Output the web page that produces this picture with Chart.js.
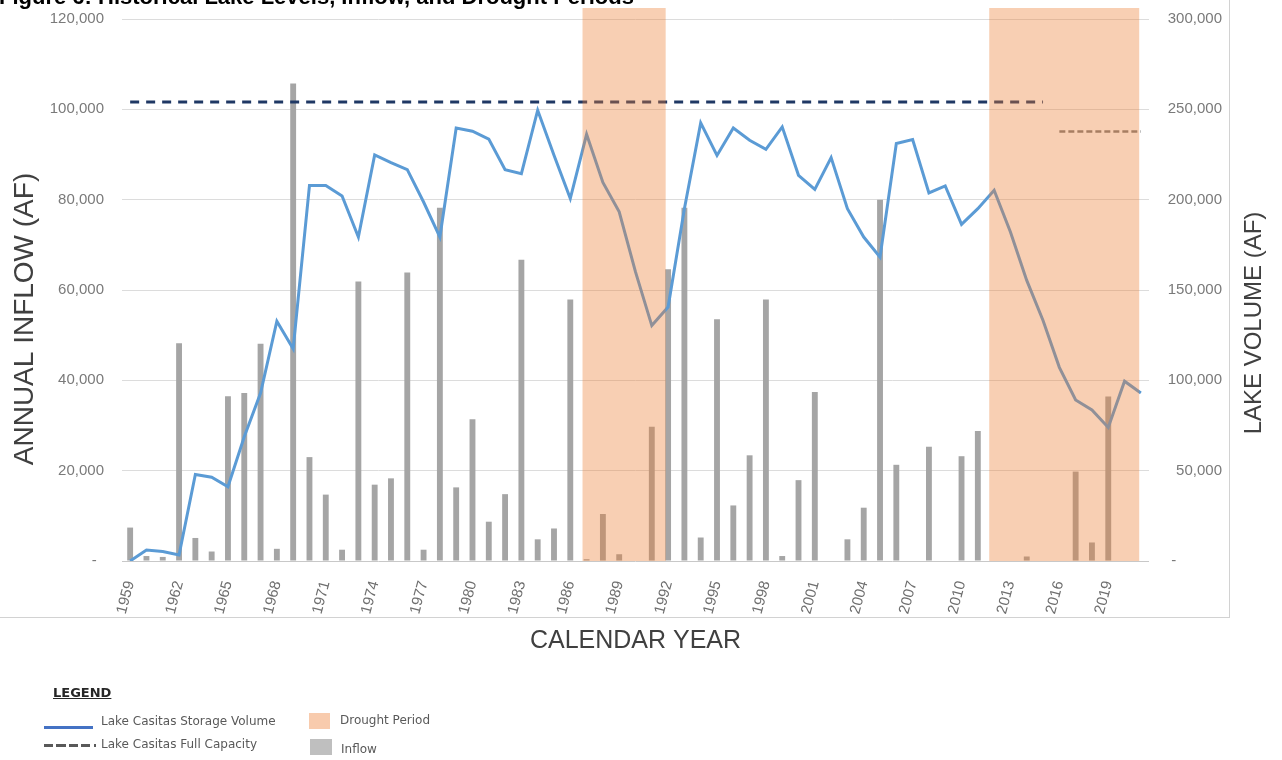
<!DOCTYPE html>
<html>
<head>
<meta charset="utf-8">
<script src="https://cdn.jsdelivr.net/npm/chart.js@4.4.1/dist/chart.umd.min.js"></script>
<style>
  html, body { margin:0; padding:0; width:1282px; height:760px; overflow:hidden; background:#ffffff; }
  #wrap { position:absolute; left:0; top:0; width:1282px; height:760px; }
  #frame { position:absolute; left:-2px; top:-2px; width:1230px; height:618px; border:1px solid #d2d2d2; pointer-events:none; }
  #figtitle { position:absolute; left:-1px; top:-14px; font:bold 22px "Liberation Sans", Arial, sans-serif; line-height:22px; color:#000; white-space:nowrap; }
  .lg { position:absolute; font:12px "DejaVu Sans", sans-serif; color:#595959; white-space:nowrap; line-height:14px; }
  #lgTitle { position:absolute; left:53px; top:685px; font:bold 13px "DejaVu Sans", sans-serif; color:#262626; text-decoration:underline; line-height:16px; }
  .sw { position:absolute; }
</style>
</head>
<body>
<div id="wrap">
  <canvas id="c"></canvas>
  <div id="frame"></div>
  <div id="figtitle">Figure 6: Historical Lake Levels, Inflow, and Drought Periods</div>
  <div id="lgTitle">LEGEND</div>
  <div class="sw" style="left:44px;top:726px;width:49px;height:3px;background:#4472C4;"></div>
  <div class="lg" style="left:101px;top:714px;">Lake Casitas Storage Volume</div>
  <div class="sw" style="left:44px;top:744px;width:52px;height:3px;background:repeating-linear-gradient(90deg,#595959 0 9px,transparent 9px 12.5px);"></div>
  <div class="lg" style="left:101px;top:737px;">Lake Casitas Full Capacity</div>
  <div class="sw" style="left:309px;top:713px;width:21px;height:16px;background:#F8CBAD;"></div>
  <div class="lg" style="left:340px;top:713px;">Drought Period</div>
  <div class="sw" style="left:310px;top:739px;width:22px;height:16px;background:#BFBFBF;"></div>
  <div class="lg" style="left:341px;top:742px;">Inflow</div>
</div>
<script>
// ---------- DATA ----------
const years = ['1959','1960','1961','1962','1963','1964','1965','1966','1967','1968',
  '1969','1970','1971','1972','1973','1974','1975','1976','1977','1978',
  '1979','1980','1981','1982','1983','1984','1985','1986','1987','1988',
  '1989','1990','1991','1992','1993','1994','1995','1996','1997','1998',
  '1999','2000','2001','2002','2003','2004','2005','2006','2007','2008',
  '2009','2010','2011','2012','2013','2014','2015','2016','2017','2018',
  '2019','2020','2021'];

// Annual inflow (AF) - left axis
const inflow = [7400,1100,900,48200,5100,2100,36500,37200,48100,2700,
  105700,23000,14700,2500,61900,16900,18300,63900,2500,78200,
  16300,31400,8700,14800,66700,4800,7200,57900,400,10400,
  1500,0,29700,64600,78200,5200,53500,12300,23400,57900,
  1100,17900,37400,0,4800,11800,80000,21300,0,25300,
  0,23200,28800,0,0,1000,0,0,19800,4100,
  36400,0,0];

// Lake Casitas storage volume (AF) - right axis
const storage = [0,6100,5200,3300,47900,46400,41100,68800,93000,132700,
  117500,207800,207800,202000,179300,224800,220500,216600,198700,179300,
  239700,237900,233500,216600,214400,249500,224600,200600,236200,209500,
  193300,160000,130300,140600,195000,242500,224500,239700,232900,227900,
  240300,213500,205700,223300,195000,179300,168200,231100,233300,203700,
  207600,186300,195000,205200,182100,155300,133100,107200,89100,83600,
  73900,99500,93000];

// Full capacity lines (AF) - right axis
const fullCapacity = 254000;
const fullCapacityYears = ['1959','2015'];
const reducedCapacity = 237761;
const reducedCapacityYears = ['2016','2021'];

// Drought periods (decimal years)
const droughtStart = [1986.75, 2011.7];
const droughtEnd   = [1991.85, 2020.9];

// Tick settings
const inflowTicks = { min:0, max:120000, step:20000 };
const volumeTicks = { min:0, max:300000, step:50000 };
const yearLabelEvery = 3;

const titles = {
  x: 'CALENDAR YEAR',
  left: 'ANNUAL INFLOW (AF)',
  right: 'LAKE VOLUME (AF)'
};

// ---------- BUILD ----------
function spanSeries(value, range) {
  const a = years.indexOf(range[0]), b = years.indexOf(range[1]);
  return years.map((y, i) => (i >= a && i <= b) ? value : null);
}

const fmt = v => v.toLocaleString('en-US');

const overlayPlugin = {
  id: 'droughtAndTitles',
  afterDatasetsDraw(chart) {
    const { ctx, chartArea, scales } = chart;
    const xs = scales.x;
    const base = Number(years[0]);
    ctx.save();
    ctx.fillStyle = 'rgba(237,125,49,0.37)';
    const top = chartArea.top - 11;
    for (let i = 0; i < droughtStart.length; i++) {
      const x0 = xs.getPixelForValue(droughtStart[i] - base);
      const x1 = xs.getPixelForValue(droughtEnd[i] - base);
      ctx.fillRect(x0, top, x1 - x0, chartArea.bottom - top);
    }
    ctx.restore();
  },
  afterDraw(chart) {
    const { ctx, chartArea } = chart;
    const cy = (chartArea.top + chartArea.bottom) / 2;
    ctx.save();
    ctx.fillStyle = '#404040';
    ctx.textAlign = 'center';
    ctx.textBaseline = 'middle';
    ctx.font = '28px "Liberation Sans", Arial, sans-serif';
    ctx.save();
    ctx.translate(chartArea.left - 97, cy + 29);
    ctx.rotate(-Math.PI / 2);
    ctx.fillText(titles.left, 0, 0);
    ctx.restore();
    ctx.font = '24px "Liberation Sans", Arial, sans-serif';
    ctx.save();
    ctx.translate(chartArea.right + 105, cy + 33);
    ctx.rotate(-Math.PI / 2);
    ctx.fillText(titles.right, 0, 0);
    ctx.restore();
    ctx.restore();
  }
};

const tickFont = { family: '"Liberation Sans", Arial, sans-serif', size: 15 };

const chart = new Chart(document.getElementById('c'), {
  type: 'bar',
  data: {
    labels: years,
    datasets: [
      {
        type: 'line',
        label: 'Lake Casitas Storage Volume',
        data: storage,
        yAxisID: 'y1',
        borderColor: '#5B9BD5',
        borderWidth: 3,
        pointRadius: 0,
        tension: 0,
        order: 1
      },
      {
        type: 'line',
        label: 'Lake Casitas Full Capacity',
        data: spanSeries(fullCapacity, fullCapacityYears),
        yAxisID: 'y1',
        borderColor: '#1F3864',
        borderWidth: 3,
        borderDash: [9, 7],
        pointRadius: 0,
        spanGaps: false,
        order: 2
      },
      {
        type: 'line',
        label: 'Reduced Capacity',
        data: spanSeries(reducedCapacity, reducedCapacityYears),
        yAxisID: 'y1',
        borderColor: '#7F7F7F',
        borderWidth: 2.5,
        borderDash: [6, 3],
        pointRadius: 0,
        spanGaps: false,
        order: 2
      },
      {
        type: 'bar',
        label: 'Inflow',
        data: inflow,
        yAxisID: 'y',
        backgroundColor: '#A5A5A5',
        barPercentage: 0.36,
        categoryPercentage: 1.0,
        order: 3
      }
    ]
  },
  options: {
    responsive: true,
    maintainAspectRatio: false,
    animation: false,
    layout: { padding: { left: 0, right: 60, top: 19, bottom: 104 } },
    plugins: { legend: { display: false }, tooltip: { enabled: false } },
    scales: {
      x: {
        offset: true,
        grid: { display: false },
        border: { display: false },
        ticks: {
          autoSkip: false,
          minRotation: 75,
          maxRotation: 75,
          padding: 10,
          color: '#6e6e6e',
          font: tickFont,
          callback: function (v, i) { return i % yearLabelEvery === 0 ? this.getLabelForValue(v) : null; }
        },
        title: {
          display: true,
          text: titles.x,
          color: '#404040',
          font: { family: '"Liberation Sans", Arial, sans-serif', size: 25 },
          padding: { top: 0, bottom: 0 }
        },
        afterFit(s) { s.height = 95; }
      },
      y: {
        position: 'left',
        min: inflowTicks.min,
        max: inflowTicks.max,
        border: { display: false },
        grid: {
          drawTicks: false,
          color: c => (c.tick && c.tick.value === 0) ? '#c8c8c8' : '#dcdcdc',
          lineWidth: 1
        },
        ticks: {
          stepSize: inflowTicks.step,
          padding: 18,
          color: '#7a7a7a',
          font: tickFont,
          callback: v => v === 0 ? '-\u2008\u2009' : fmt(v)
        },
        afterFit(s) { s.width = 122; s.paddingTop = 0; s.paddingBottom = 0; }
      },
      y1: {
        position: 'right',
        min: volumeTicks.min,
        max: volumeTicks.max,
        border: { display: false },
        grid: { display: false, drawTicks: false },
        ticks: {
          stepSize: volumeTicks.step,
          padding: 19,
          crossAlign: 'far',
          color: '#7a7a7a',
          font: tickFont,
          callback: v => v === 0 ? '-\u2007\u2007\u2007\u2007\u2007\u2008' : fmt(v)
        },
        afterFit(s) { s.width = 73; s.paddingTop = 0; s.paddingBottom = 0; }
      }
    }
  },
  plugins: [overlayPlugin]
});
</script>
</body>
</html>
